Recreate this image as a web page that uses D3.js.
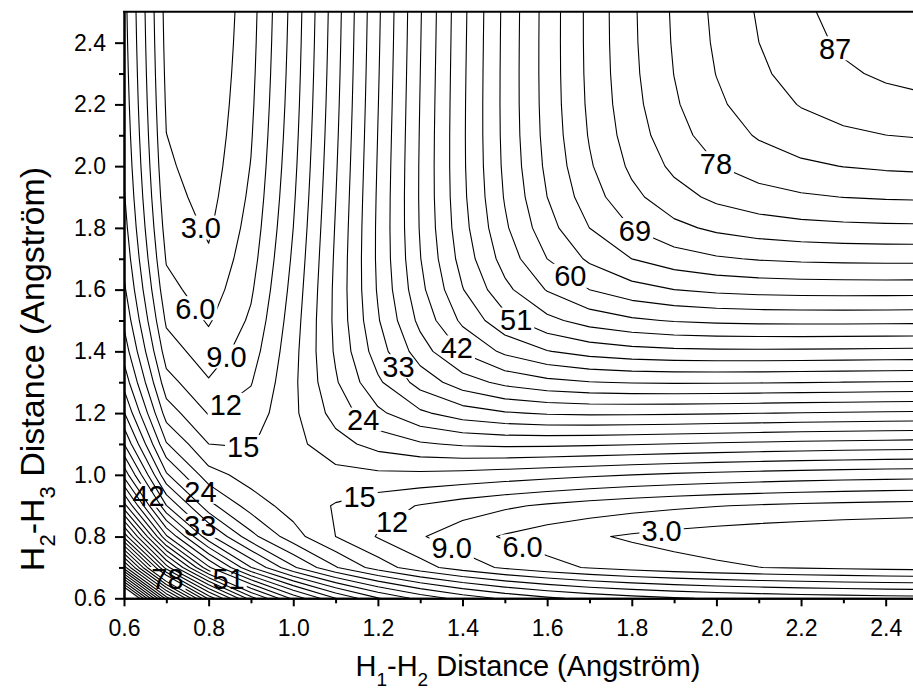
<!DOCTYPE html>
<html lang="en">
<head>
<meta charset="UTF-8">
<title>H3 collinear potential energy surface</title>
<style>
  body { margin: 0; background: #fff; }
  svg { display: block; font-family: "Liberation Sans", Arial, sans-serif; }
  .axis path, .axis line { stroke: #000; stroke-width: 2; }
  .axis text { font-size: 23px; fill: #000; }
  .contour { fill: none; stroke: #000; stroke-width: 1.1; stroke-linejoin: round; }
  .clabel { font-size: 29px; fill: #000; text-anchor: middle; }
  .title { font-size: 29px; fill: #000; }
</style>
</head>
<body>
<svg id="chart"></svg>
<script src="https://cdn.jsdelivr.net/npm/d3@7"></script>
<script>
// LEPS surface for collinear H1-H2-H3, energies in kcal/mol, distances in Angstrom
const morseD = 99.0, morseA = 2.0, morseRe = 0.77, satoK = 0.03;

// distances at which the surface was sampled (both axes)
const gridR = [0.6, 0.7, 0.8, 0.9, 1.0, 1.1, 1.2, 1.3, 1.4, 1.5,
               1.6, 1.7, 1.8, 1.9, 2.0, 2.1, 2.2, 2.3, 2.4, 2.5];

// contour levels
const levels = [3, 6, 9, 12, 15, 18, 21, 24, 27, 30, 33, 36, 39, 42, 45, 48, 51, 54, 57, 60,
                63, 66, 69, 72, 75, 78, 81, 84, 87, 90, 93, 96, 99, 102, 105, 108, 111, 114, 117, 120];

// contour labels: level and rough spot (r12, r23)
const labelLevel = [87, 78, 69, 60, 51, 42, 33, 24, 15, 12, 9, 6, 3, 15, 12, 9, 6, 3, 42, 24, 33, 78, 51];
const labelR12 = [2.247, 1.945, 1.789, 1.630, 1.512, 1.370, 1.236, 1.158, 0.881, 0.843, 0.832, 0.782, 0.768,
                  1.158, 1.236, 1.373, 1.545, 1.871, 0.643, 0.761, 0.761, 0.685, 0.834];
const labelR23 = [2.344, 1.949, 1.734, 1.598, 1.475, 1.395, 1.340, 1.165, 1.080, 1.222, 1.395, 1.553, 1.793,
                  0.922, 0.843, 0.759, 0.779, 0.811, 0.919, 0.919, 0.806, 0.620, 0.620];

const majorTicks = [0.6, 0.8, 1.0, 1.2, 1.4, 1.6, 1.8, 2.0, 2.2, 2.4];
const minorTicks = [0.7, 0.9, 1.1, 1.3, 1.5, 1.7, 1.9, 2.1, 2.3];

const W = 913, H = 691;
const svg = d3.select("#chart").attr("width", W).attr("height", H);

const x = d3.scaleLinear().domain([0.6, 2.5]).range([124, 928]);
const y = d3.scaleLinear().domain([0.6, 2.5]).range([598.3, 11.8]);

function pairTerms(r) {
  const e = Math.exp(-morseA * (r - morseRe));
  const e1 = morseD * (e * e - 2 * e);         // singlet (Morse)
  const e3 = 0.5 * morseD * (e * e + 2 * e);   // triplet (anti-Morse)
  return {
    q: (e1 * (1 + satoK) + e3 * (1 - satoK)) / 2,
    j: (e1 * (1 + satoK) - e3 * (1 - satoK)) / 2
  };
}
function leps(r12, r23) {
  const a = pairTerms(r12), b = pairTerms(r23), c = pairTerms(r12 + r23);
  const s = Math.sqrt(((a.j - b.j) ** 2 + (b.j - c.j) ** 2 + (c.j - a.j) ** 2) / 2);
  return (a.q + b.q + c.q - s) / (1 + satoK) + morseD;
}

const n = gridR.length;
let values = new Array(n * n);
for (let j = 0; j < n; j++)
  for (let i = 0; i < n; i++)
    values[j * n + i] = leps(gridR[i], gridR[j]);
// energies relative to the lowest sampled point
const zero = d3.min(values);
values = values.map(v => v - zero);

const contours = d3.contours().size([n, n]).thresholds(levels)(values);

// grid coords -> distance (sample i sits at i + 0.5)
const step = gridR[1] - gridR[0];
const g2r = c => gridR[0] + (c - 0.5) * step;
const proj = d3.geoTransform({
  point: function(cx, cy) { this.stream.point(x(g2r(cx)), y(g2r(cy))); }
});
const path = d3.geoPath(proj);

const defs = svg.append("defs");
defs.append("clipPath").attr("id", "plotClip")
  .append("rect")
  .attr("x", x(0.6)).attr("y", y(2.5))
  .attr("width", x(2.5) - x(0.6)).attr("height", y(0.6) - y(2.5));

// nearest point on a level's contour to a spot (inside the plot)
function snap(level, px, py) {
  const geom = contours.find(c => c.value === level);
  let best = null, bd = Infinity;
  geom.coordinates.forEach(poly => poly.forEach(ring => {
    for (let k = 0; k < ring.length - 1; k++) {
      const ax = x(g2r(ring[k][0])), ay = y(g2r(ring[k][1]));
      const bx = x(g2r(ring[k + 1][0])), by = y(g2r(ring[k + 1][1]));
      const dx = bx - ax, dy = by - ay, L = dx * dx + dy * dy;
      let t = L ? ((px - ax) * dx + (py - ay) * dy) / L : 0;
      t = Math.max(0, Math.min(1, t));
      const qx = ax + t * dx, qy = ay + t * dy;
      if (qx < x(0.6) || qy > y(0.6) || qy < y(2.5)) continue;
      const d = (qx - px) ** 2 + (qy - py) ** 2;
      if (d < bd) { bd = d; best = [qx, qy]; }
    }
  }));
  return best && bd < 50 * 50 ? best : [px, py];
}

const fmt = v => v < 10 ? v.toFixed(1) : String(v);

// labels go on top; their boxes cut their own line
const labelLayer = svg.append("g");
const cuts = {};
labelLevel.forEach((lv, i) => {
  const p = snap(lv, x(labelR12[i]), y(labelR23[i]));
  const t = labelLayer.append("text").attr("class", "clabel").attr("dy", "0.36em").text(fmt(lv));
  const w = t.node().getComputedTextLength();
  const cx = Math.max(p[0], x(0.6) + w / 2 + 2);
  const cy = Math.min(Math.max(p[1], y(2.5) + 12), y(0.6) - 10.5);
  t.attr("x", cx).attr("y", cy);
  (cuts[lv] = cuts[lv] || []).push({ x: cx - w / 2 - 2, y: cy - 12, w: w + 4, h: 24 });
});

Object.keys(cuts).forEach(lv => {
  const m = defs.append("mask").attr("id", "cut" + lv)
    .attr("maskUnits", "userSpaceOnUse")
    .attr("x", 0).attr("y", 0).attr("width", W).attr("height", H);
  m.append("rect").attr("width", W).attr("height", H).attr("fill", "#fff");
  cuts[lv].forEach(b => m.append("rect")
    .attr("x", b.x).attr("y", b.y).attr("width", b.w).attr("height", b.h).attr("fill", "#000"));
});

svg.insert("g", ":first-child")
  .attr("clip-path", "url(#plotClip)")
  .selectAll("path")
  .data(contours)
  .join("path")
  .attr("class", "contour")
  .attr("d", path)
  .attr("mask", d => cuts[d.value] ? "url(#cut" + d.value + ")" : null);

// axes
svg.append("g").attr("class", "axis")
  .attr("transform", `translate(0,${y(0.6)})`)
  .call(d3.axisBottom(x).tickValues(minorTicks).tickSize(5).tickSizeOuter(0).tickFormat(""));
svg.append("g").attr("class", "axis")
  .attr("transform", `translate(0,${y(0.6)})`)
  .call(d3.axisBottom(x).tickValues(majorTicks).tickSize(8).tickSizeOuter(0).tickPadding(13)
    .tickFormat(d3.format(".1f")));

svg.append("g").attr("class", "axis")
  .attr("transform", `translate(${x(0.6)},0)`)
  .call(d3.axisLeft(y).tickValues(minorTicks).tickSize(5).tickSizeOuter(0).tickFormat(""));
svg.append("g").attr("class", "axis")
  .attr("transform", `translate(${x(0.6)},0)`)
  .call(d3.axisLeft(y).tickValues(majorTicks).tickSize(9).tickSizeOuter(0).tickPadding(9)
    .tickFormat(d3.format(".1f")));

// top frame line
svg.append("line")
  .attr("x1", x(0.6) - 1).attr("x2", x(2.5))
  .attr("y1", y(2.5)).attr("y2", y(2.5))
  .attr("stroke", "#000").attr("stroke-width", 2);

// axis titles
function title(sel, a, b, sub, shift) {
  sel.append("tspan").text("H");
  sel.append("tspan").attr("dy", shift).attr("font-size", sub).text(a);
  sel.append("tspan").attr("dy", -shift).text("-H");
  sel.append("tspan").attr("dy", shift).attr("font-size", sub).text(b);
  sel.append("tspan").attr("dy", -shift).text(" Distance (Angstr\u00f6m)");
}
svg.append("text").attr("class", "title")
  .attr("x", 528).attr("y", 676).attr("text-anchor", "middle")
  .call(title, "1", "2", "19px", 10);
svg.append("text").attr("class", "title")
  .attr("transform", "translate(44,369) rotate(-90)").attr("text-anchor", "middle")
  .style("font-size", "34px")
  .call(title, "2", "3", "22px", 11);
</script>
</body>
</html>
